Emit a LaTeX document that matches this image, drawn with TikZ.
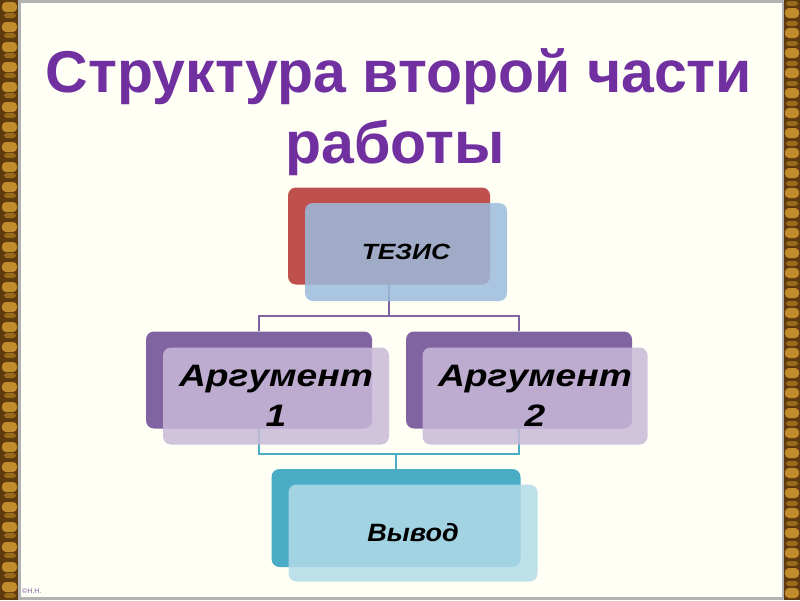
\documentclass[tikz,border=0pt]{standalone}
\usepackage{fontspec}
\setmainfont{Liberation Sans}
\newfontfamily\boxfont[FakeStretch=1.2]{Liberation Sans}
\newfontfamily\plainboxfont[FakeStretch=1.08]{Liberation Sans}
\definecolor{cream}{HTML}{FFFFF6}
\definecolor{titlepurple}{HTML}{7030A0}
\definecolor{backred}{HTML}{C0504D}
\definecolor{frontblue}{HTML}{9BBBDD}
\definecolor{backpurple}{HTML}{8064A2}
\definecolor{frontlilac}{HTML}{C8B9D8}
\definecolor{backteal}{HTML}{4BACC6}
\definecolor{frontcyan}{HTML}{B2DBE7}
\definecolor{woodbase}{HTML}{5E3A0E}
\definecolor{woodlight}{HTML}{C08C2C}
\definecolor{woodmid}{HTML}{9A6A1C}
\tikzset{
  backbox/.style={rounded corners=8pt, minimum width=#1, inner sep=0pt, draw=none},
  frontbox/.style={rounded corners=8pt, inner sep=0pt, draw=none, fill opacity=0.85, text opacity=1, align=center, font=\boxfont\bfseries\itshape},
  titletext/.style={font=\bfseries\fontsize{59}{66}\selectfont, text=titlepurple, inner sep=0pt},
  connpurple/.style={draw=backpurple, line width=1.4pt},
  connteal/.style={draw=backteal, line width=1.4pt},
}
\begin{document}
\begin{tikzpicture}[x=1pt,y=-1pt]
\useasboundingbox (0,0) rectangle (800,600);
% frame
\fill[woodbase] (0,0) rectangle (800,600);
\foreach \yy in {0,20,...,600} {
  \fill[woodlight, rounded corners=4pt] (2,\yy+2) rectangle (17,\yy+12);
  \fill[woodmid, rounded corners=3pt] (4,\yy+13) rectangle (16,\yy+18);
  \fill[woodlight, rounded corners=4pt] (785,\yy+8) rectangle (799,\yy+18);
  \fill[woodmid, rounded corners=3pt] (786,\yy+1) rectangle (798,\yy+6);
}
\fill[gray!60] (18,0) rectangle (784,600);
\fill[cream] (21,3) rectangle (782,597);
% title
\node[titletext, anchor=base] (t1) at (399,92) {Структура второй части};
\node[titletext, anchor=base] (t2) at (395,163) {работы};
% back boxes
\node[backbox=202pt, minimum height=97pt, fill=backred] (tb) at (389,236) {};
\node[backbox=226pt, minimum height=97pt, fill=backpurple] (a1b) at (259,380) {};
\node[backbox=226pt, minimum height=97pt, fill=backpurple] (a2b) at (519,380) {};
\node[backbox=249pt, minimum height=98pt, fill=backteal] (vb) at (396,518) {};
% connectors
\coordinate (j1) at (389,316);
\coordinate (j2) at (396,454);
\draw[connpurple] (tb.south) -- (j1);
\draw[connpurple] (a1b.north) |- (j1) -| (a2b.north);
\draw[connteal] (a1b.south) |- (j2) -| (a2b.south);
\draw[connteal] (j2) -- (vb.north);
% front boxes
\node[frontbox, fill=frontblue, minimum width=202pt, minimum height=98pt, font=\boxfont\bfseries\itshape\fontsize{22}{25}\selectfont] (tf) at (406,252) {ТЕЗИС};
\node[frontbox, fill=frontlilac, minimum width=226pt, minimum height=97pt, font=\boxfont\bfseries\itshape\fontsize{31}{40}\selectfont] (a1f) at (276,396) {Аргумент\\1};
\node[frontbox, fill=frontlilac, minimum width=225pt, minimum height=97pt, font=\boxfont\bfseries\itshape\fontsize{31}{40}\selectfont] (a2f) at (535,396) {Аргумент\\2};
\node[frontbox, fill=frontcyan, minimum width=249pt, minimum height=97pt, font=\plainboxfont\bfseries\itshape\fontsize{25}{30}\selectfont] (vf) at (413,533) {Вывод};
% signature
\node[anchor=base west, inner sep=0pt, text=backpurple, font=\fontsize{7}{8}\selectfont] (sig) at (22,593) {©Н.Н.};
\end{tikzpicture}
\end{document}
